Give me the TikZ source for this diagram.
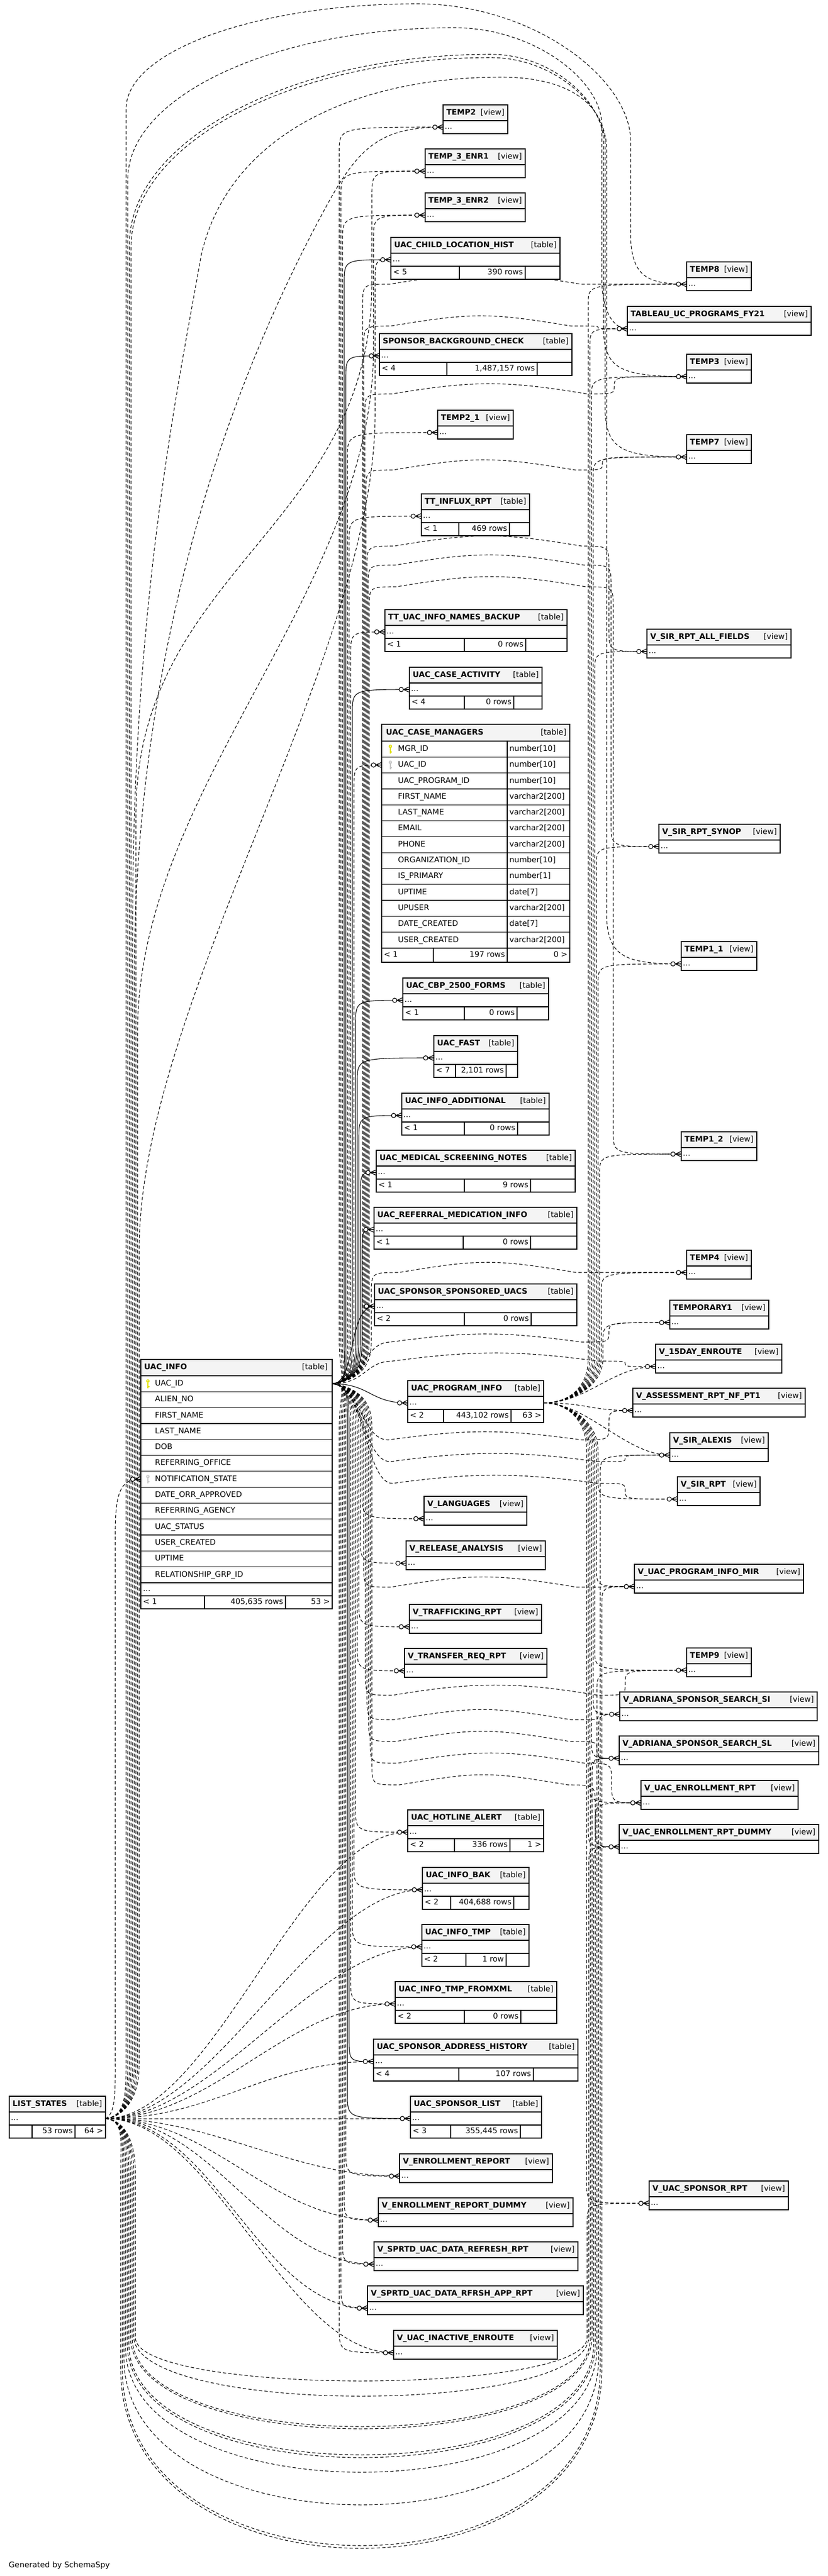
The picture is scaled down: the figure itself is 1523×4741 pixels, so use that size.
\documentclass[tikz,border=0pt]{standalone}
\usepackage{fontspec}
\setmainfont{DejaVu Sans}
\usepackage{xcolor}
\usepackage{tikz}
\usetikzlibrary{calc}
\definecolor{ink}{HTML}{000000}
\definecolor{hdrfill}{HTML}{F4F4F4}
\definecolor{keygold}{HTML}{E2E200}
\definecolor{keygray}{HTML}{C8C8C8}
\newcommand{\fsz}{\fontsize{14.25}{17}\selectfont}
\pgfdeclarelayer{back}
\pgfdeclarelayer{edges}
\pgfsetlayers{back,edges,main}
\tikzset{
  hdr/.style={draw=ink, line width=1.2pt, fill=hdrfill, anchor=north west, inner sep=0pt, outer sep=0pt, minimum height=29pt},
  cellbox/.style={draw=ink, line width=1.2pt, fill=white, anchor=north west, inner sep=0pt, outer sep=0pt, minimum height=24pt},
  titletxt/.style={anchor=west, inner sep=0pt, font=\fsz\bfseries, text height=10.5pt, text depth=3pt},
  kindtxt/.style={anchor=east, inner sep=0pt, font=\fsz, text height=10.5pt, text depth=3pt},
  celltxt/.style={anchor=west, inner sep=0pt, font=\fsz, text height=10.5pt, text depth=3pt},
  fk/.style={draw=ink, line width=1.1pt},
  fkd/.style={fk, dash pattern=on 6pt off 4pt},
  crowst/.style={draw=ink, line width=1.2pt},
}
% view box: name, x, y, width, title
\newcommand{\mkview}[5]{%
  \node[hdr, minimum width=#4] (#1H) at (#2,#3) {};
  \node[cellbox, minimum width=#4] (#1) at (#1H.south west) {};
  \node[titletxt] (#1T) at ([xshift=6pt]#1H.west) {#5};
  \node[kindtxt] (#1K) at ([xshift=-6pt]#1H.east) {[view]};
  \node[celltxt] (#1D) at ([xshift=3pt]#1.west) {...};
}
% table box: name, x, y, width, title, footer cell widths, footer texts
\newcommand{\mktable}[9]{%
  \node[hdr, minimum width=#4] (#1H) at (#2,#3) {};
  \node[cellbox, minimum width=#4] (#1) at (#1H.south west) {};
  \node[cellbox, minimum width=#6] (#1A) at (#1.south west) {};
  \node[cellbox, minimum width=#7] (#1B) at (#1A.north east) {};
  \node[cellbox, minimum width=#4-#6-#7] (#1C) at (#1B.north east) {};
  \node[titletxt] (#1T) at ([xshift=6pt]#1H.west) {#5};
  \node[kindtxt] (#1K) at ([xshift=-6pt]#1H.east) {[table]};
  \node[celltxt] (#1D) at ([xshift=3pt]#1.west) {...};
  \node[celltxt] (#1L) at ([xshift=4pt]#1A.west) {#8};
  \node[kindtxt] (#1R) at ([xshift=-4pt]#1B.east) {#9};
}
\newcommand{\keyat}[3]{%
  \draw[#3, line width=2pt] (#1,{#2-2}) -- (#1,{#2+8}) (#1,{#2+5}) -- ({#1+2.5},{#2+5});
  \fill[#3] (#1,{#2-5}) circle (3.2pt);
  \fill[white] (#1,{#2-5.5}) circle (1.1pt);
}
\newcommand{\crow}[1]{%
  \draw[crowst] ([xshift=-11pt]#1.west) -- ([yshift=5pt]#1.west)
    ([xshift=-11pt]#1.west) -- ([yshift=-5pt]#1.west)
    ([xshift=-11pt]#1.west) -- (#1.west);
  \draw[crowst, fill=white] ([xshift=-15pt]#1.west) circle (4pt);
}

\begin{document}
\begin{tikzpicture}[x=1pt, y=-1pt]
  \useasboundingbox (0,0) rectangle (1523,4741);
  \begin{pgfonlayer}{back}
    \fill[white] (0,0) rectangle (1523,4741);
  \end{pgfonlayer}

  % middle column
  \mkview{temp2}{815}{193}{119}{TEMP2}
  \mkview{t3e1}{782}{274}{184}{TEMP\_3\_ENR1}
  \mkview{t3e2}{782}{355}{184}{TEMP\_3\_ENR2}
  \mktable{uclh}{719}{437}{311}{UAC\_CHILD\_LOCATION\_HIST}{126}{121}{< 5}{390 rows}
  \mktable{sbc}{698}{614}{354}{SPONSOR\_BACKGROUND\_CHECK}{124}{166}{< 4}{1,487,157 rows}
  \mkview{temp21}{805}{755}{139}{TEMP2\_1}
  \mktable{ttinf}{775}{909}{199}{TT\_INFLUX\_RPT}{69}{93}{< 1}{469 rows}
  \mktable{ttnb}{708}{1122}{335}{TT\_UAC\_INFO\_NAMES\_BACKUP}{146}{113}{< 1}{0 rows}
  \mktable{uca}{753}{1228}{244}{UAC\_CASE\_ACTIVITY}{101}{91}{< 4}{0 rows}

  % UAC_CASE_MANAGERS, full columns
  \node[hdr, minimum width=346, minimum height=31] (ucmH) at (702,1333) {};
  \node[titletxt] (ucmT) at ([xshift=8pt]ucmH.west) {UAC\_CASE\_MANAGERS};
  \node[kindtxt] (ucmK) at ([xshift=-6pt]ucmH.east) {[table]};
  \foreach \nm/\tp [count=\i] in {MGR\_ID/number[10], UAC\_ID/number[10], UAC\_PROGRAM\_ID/number[10],
      FIRST\_NAME/varchar2[200], LAST\_NAME/varchar2[200], EMAIL/varchar2[200], PHONE/varchar2[200],
      ORGANIZATION\_ID/number[10], IS\_PRIMARY/number[1], UPTIME/date[7], UPUSER/varchar2[200],
      DATE\_CREATED/date[7], USER\_CREATED/varchar2[200]}{
    \node[cellbox, minimum width=231, minimum height=29.3] (ucm\i) at (702,{1364+(\i-1)*29.3}) {};
    \node[cellbox, minimum width=115, minimum height=29.3] (ucmy\i) at (ucm\i.north east) {};
    \node[celltxt] (ucmn\i) at ([xshift=30pt]ucm\i.west) {\nm};
    \node[celltxt] (ucmv\i) at ([xshift=4pt]ucmy\i.west) {\tp};
  }
  \node[cellbox, minimum width=95, minimum height=26] (ucmA) at (702,1745) {};
  \node[cellbox, minimum width=136, minimum height=26] (ucmB) at (ucmA.north east) {};
  \node[cellbox, minimum width=115, minimum height=26] (ucmC) at (ucmB.north east) {};
  \node[celltxt] (ucmL) at ([xshift=4pt]ucmA.west) {< 1};
  \node[kindtxt] (ucmR) at ([xshift=-4pt]ucmB.east) {197 rows};
  \node[kindtxt] (ucmG) at ([xshift=-4pt]ucmC.east) {0 >};
  \draw[draw=ink, line width=2.6pt] (702,1333) rectangle (1048,1771);
  \keyat{718}{1378.65}{keygold}
  \keyat{718}{1407.95}{keygray}

  \mktable{cbp}{741}{1800}{268}{UAC\_CBP\_2500\_FORMS}{113}{97}{< 1}{0 rows}
  \mktable{fast}{798}{1906}{154}{UAC\_FAST}{40}{93}{< 7}{2,101 rows}
  \mktable{uia}{739}{2012}{271}{UAC\_INFO\_ADDITIONAL}{115}{98}{< 1}{0 rows}
  \mktable{msn}{692}{2117}{366}{UAC\_MEDICAL\_SCREENING\_NOTES}{162}{122}{< 1}{9 rows}
  \mktable{rmi}{688}{2222}{373}{UAC\_REFERRAL\_MEDICATION\_INFO}{164}{124}{< 1}{0 rows}
  \mktable{uss}{689}{2363}{372}{UAC\_SPONSOR\_SPONSORED\_UACS}{165}{123}{< 2}{0 rows}
  \mktable{upi}{750}{2541}{250}{UAC\_PROGRAM\_INFO}{66}{124}{< 2}{443,102 rows}
  \node[kindtxt] (upiG) at ([xshift=-4pt]upiC.east) {63 >};
  \mkview{vlang}{780}{2754}{189}{V\_LANGUAGES}
  \mkview{vrel}{747}{2836}{256}{V\_RELEASE\_ANALYSIS}
  \mkview{vtraf}{753}{2953}{243}{V\_TRAFFICKING\_RPT}
  \mkview{vtrans}{744}{3034}{262}{V\_TRANSFER\_REQ\_RPT}
  \mktable{uha}{750}{3331}{250}{UAC\_HOTLINE\_ALERT}{86}{102}{< 2}{336 rows}
  \node[kindtxt] (uhaG) at ([xshift=-4pt]uhaC.east) {1 >};
  \mktable{uib}{777}{3437}{196}{UAC\_INFO\_BAK}{52}{116}{< 2}{404,688 rows}
  \mktable{uit}{776}{3542}{197}{UAC\_INFO\_TMP}{81}{74}{< 2}{1 row}
  \mktable{uitx}{727}{3647}{297}{UAC\_INFO\_TMP\_FROMXML}{127}{104}{< 2}{0 rows}
  \mktable{usah}{687}{3753}{376}{UAC\_SPONSOR\_ADDRESS\_HISTORY}{157}{137}{< 4}{107 rows}
  \mktable{usl}{755}{3858}{241}{UAC\_SPONSOR\_LIST}{74}{128}{< 3}{355,445 rows}
  \mkview{venr}{735}{3964}{281}{V\_ENROLLMENT\_REPORT}
  \mkview{venrd}{696}{4045}{358}{V\_ENROLLMENT\_REPORT\_DUMMY}
  \mkview{vsr}{688}{4126}{375}{V\_SPRTD\_UAC\_DATA\_REFRESH\_RPT}
  \mkview{vsra}{676}{4207}{397}{V\_SPRTD\_UAC\_DATA\_RFRSH\_APP\_RPT}
  \mkview{vuie}{724}{4289}{301}{V\_UAC\_INACTIVE\_ENROUTE}

  % right column
  \mkview{temp8}{1263}{482}{119}{TEMP8}
  \mkview{tab}{1154}{564}{338}{TABLEAU\_UC\_PROGRAMS\_FY21}
  \mkview{temp3}{1263}{652}{119}{TEMP3}
  \mkview{temp7}{1263}{800}{119}{TEMP7}
  \mkview{vsraf}{1190}{1158}{265}{V\_SIR\_RPT\_ALL\_FIELDS}
  \mkview{vsrs}{1212}{1517}{223}{V\_SIR\_RPT\_SYNOP}
  \mkview{t11}{1253}{1733}{139}{TEMP1\_1}
  \mkview{t12}{1253}{2083}{139}{TEMP1\_2}
  \mkview{temp4}{1263}{2301}{119}{TEMP4}
  \mkview{tmp1}{1232}{2393}{182}{TEMPORARY1}
  \mkview{v15}{1206}{2474}{232}{V\_15DAY\_ENROUTE}
  \mkview{vass}{1164}{2555}{317}{V\_ASSESSMENT\_RPT\_NF\_PT1}
  \mkview{vsal}{1232}{2637}{181}{V\_SIR\_ALEXIS}
  \mkview{vsirr}{1246}{2718}{152}{V\_SIR\_RPT}
  \mkview{vmir}{1167}{2879}{311}{V\_UAC\_PROGRAM\_INFO\_MIR}
  \mkview{temp9}{1263}{3033}{119}{TEMP9}
  \mkview{vadsi}{1140}{3114}{363}{V\_ADRIANA\_SPONSOR\_SEARCH\_SI}
  \mkview{vadsl}{1139}{3195}{367}{V\_ADRIANA\_SPONSOR\_SEARCH\_SL}
  \mkview{vuer}{1179}{3277}{289}{V\_UAC\_ENROLLMENT\_RPT}
  \mkview{vuerd}{1139}{3358}{367}{V\_UAC\_ENROLLMENT\_RPT\_DUMMY}
  \mkview{vusr}{1194}{4014}{256}{V\_UAC\_SPONSOR\_RPT}

  % UAC_INFO, full columns
  \node[hdr, minimum width=352, minimum height=30] (uinfoH) at (259,2502) {};
  \node[titletxt] (uinfoT) at ([xshift=6pt]uinfoH.west) {UAC\_INFO};
  \node[kindtxt] (uinfoK) at ([xshift=-8pt]uinfoH.east) {[table]};
  \foreach \nm [count=\i] in {UAC\_ID, ALIEN\_NO, FIRST\_NAME, LAST\_NAME, DOB, REFERRING\_OFFICE,
      NOTIFICATION\_STATE, DATE\_ORR\_APPROVED, REFERRING\_AGENCY, UAC\_STATUS, USER\_CREATED,
      UPTIME, RELATIONSHIP\_GRP\_ID}{
    \node[cellbox, minimum width=352, minimum height=29.3] (uinfo\i) at (259,{2532+(\i-1)*29.3}) {};
    \node[celltxt] (uinfon\i) at ([xshift=26pt]uinfo\i.west) {\nm};
  }
  \node[cellbox, minimum width=352] (uinfoX) at (259,2913) {};
  \node[celltxt] (uinfoD) at ([xshift=4pt]uinfoX.west) {...};
  \node[cellbox, minimum width=117] (uinfoA) at (uinfoX.south west) {};
  \node[cellbox, minimum width=149] (uinfoB) at (uinfoA.north east) {};
  \node[cellbox, minimum width=86] (uinfoC) at (uinfoB.north east) {};
  \node[celltxt] (uinfoL) at ([xshift=4pt]uinfoA.west) {< 1};
  \node[kindtxt] (uinfoR) at ([xshift=-4pt]uinfoB.east) {405,635 rows};
  \node[kindtxt] (uinfoG) at ([xshift=-4pt]uinfoC.east) {53 >};
  \keyat{272}{2546.65}{keygold}
  \keyat{272}{2722.45}{keygray}

  \mktable{lstates}{17}{3858}{177}{LIST\_STATES}{42}{79}{}{53 rows}
  \node[kindtxt] (lstatesG) at ([xshift=-4pt]lstatesC.east) {64 >};

  \begin{pgfonlayer}{edges}
    % UAC_INFO to the tables above and below it
    \foreach \tg/\bx/\ty/\st in {temp2/624/234/fkd, t3e1/627/315/fkd, t3e2/630/396/fkd, uclh/633/478/fk,
        sbc/636/655/fk, temp21/639/796/fkd, ttinf/642/950/fkd, ttnb/645/1163/fkd, uca/648/1269/fk,
        ucm2/651/1408/fkd, cbp/654/1841/fk, fast/657/1947/fk, uia/660/2053/fk, msn/663/2158/fk, rmi/666/2263/fk}
      \draw[\st] (uinfo1.east) .. controls +(30,-4) and +(0,60) .. (\bx,2470) -- (\bx,\ty+45) .. controls (\bx,\ty) .. (\tg.west);
    \foreach \tg/\bx/\ty/\st in {vlang/666/2795/fkd, vrel/663/2877/fkd, vtraf/660/2994/fkd, vtrans/657/3075/fkd,
        uha/654/3372/fkd, uib/651/3478/fkd, uit/648/3583/fkd, uitx/645/3688/fkd, usah/642/3794/fk, usl/639/3899/fk,
        venr/636/4005/fkd, venrd/633/4086/fkd, vsr/630/4167/fkd, vsra/627/4248/fkd, vuie/624/4330/fkd}
      \draw[\st] (uinfo1.east) .. controls +(30,4) and +(0,-60) .. (\bx,2625) -- (\bx,\ty-45) .. controls (\bx,\ty) .. (\tg.west);
    \draw[fk] (uinfo1.east) .. controls +(45,0) and +(-50,0) .. (uss.west);
    \draw[fk] (uinfo1.east) .. controls +(70,0) and +(-70,0) .. (upi.west);

    % UAC_INFO to the views on the right
    \foreach \tg/\bx/\lv/\rx/\ty in {temp8/667/523/1118/523, tab/669/600/1100/605, temp3/671/725/1130/693,
        temp7/673/865/1108/841, vsraf/675/1005/1120/1199, vsrs/677/1040/1124/1558, t12/679/1080/1128/2124,
        temp4/683/2342/1110/2342}{
      \pgfmathsetmacro\dd{ifthenelse(\ty>\lv,1,-1)*min(40,abs(\ty-\lv)/2)}
      \draw[fkd] (uinfo1.east) .. controls +(30,-4) and +(0,60) .. (\bx,2470) -- (\bx,\lv+40) .. controls (\bx,\lv) .. (\bx+50,\lv)
        .. controls (\bx+200,\lv-25) and (\rx-200,\lv-25) .. (\rx-50,\lv) .. controls (\rx,\lv) .. (\rx,{\lv+(\dd)})
        -- (\rx,{\ty-(\dd)}) .. controls (\rx,\ty) .. (\tg.west);
    }
    \foreach \tg/\bx/\lv/\rx/\ty in {tmp1/668/2470/1120/2434, v15/672/2505/1150/2515, vass/664/2650/1120/2596,
        vsal/668/2690/1150/2678, vsirr/672/2730/1150/2759}{
      \pgfmathsetmacro\dd{ifthenelse(\ty>\lv,1,-1)*min(40,abs(\ty-\lv)/2)}
      \draw[fkd] (uinfo1.east) .. controls (\bx,2547) and (\bx,\lv) .. (\bx+50,\lv)
        .. controls (\bx+200,\lv-20) and (\rx-200,\lv-20) .. (\rx-50,\lv) .. controls (\rx,\lv) .. (\rx,{\lv+(\dd)})
        -- (\rx,{\ty-(\dd)}) .. controls (\rx,\ty) .. (\tg.west);
    }
    \foreach \tg/\bx/\lv/\rx/\ty in {vmir/669/2921/1110/2920, temp9/672/3120/1150/3074, vadsi/675/3165/1100/3155,
        vadsl/678/3205/1098/3236, vuer/681/3245/1125/3318, vuerd/684/3285/1095/3399}{
      \pgfmathsetmacro\dd{ifthenelse(\ty>\lv,1,-1)*min(40,abs(\ty-\lv)/2)}
      \draw[fkd] (uinfo1.east) .. controls +(30,4) and +(0,-60) .. (\bx,2625) -- (\bx,\lv-40) .. controls (\bx,\lv) .. (\bx+50,\lv)
        .. controls (\bx+200,\lv-25) and (\rx-200,\lv-25) .. (\rx-50,\lv) .. controls (\rx,\lv) .. (\rx,{\lv+(\dd)})
        -- (\rx,{\ty-(\dd)}) .. controls (\rx,\ty) .. (\tg.west);
    }

    % UAC_PROGRAM_INFO to the views on the right
    \foreach \tg/\rx/\ty in {temp8/1082/523, tab/1085/605, temp3/1088/693, temp7/1091/841, vsraf/1094/1199,
        vsrs/1097/1558, t11/1100/1774, t12/1103/2124, temp4/1106/2342, tmp1/1109/2434}
      \draw[fkd] (upi.east) .. controls +(45,0) and +(0,55) .. (\rx,2500) -- (\rx,\ty+35) .. controls (\rx,\ty) .. (\tg.west);
    \foreach \tg/\rx/\ty in {vsirr/1100/2759, vmir/1097/2920, temp9/1094/3074, vadsi/1091/3155, vadsl/1088/3236,
        vuer/1085/3318, vuerd/1082/3399, vusr/1079/4055}
      \draw[fkd] (upi.east) .. controls +(45,0) and +(0,-55) .. (\rx,2670) -- (\rx,\ty-35) .. controls (\rx,\ty) .. (\tg.west);
    \foreach \tg in {v15,vass,vsal}
      \draw[fkd] (upi.east) .. controls +(80,0) and +(-80,0) .. (\tg.west);

    % LIST_STATES over the top
    \foreach \tg/\lx/\ly/\px/\tv/\rx/\ry/\ty in {temp8/232/200/767/7/1160/260/523, tab/235/330/835/51/1107/230/605,
        temp3/238/450/903/100/1110/260/693, temp7/241/455/903/106/1113/265/841}
      \draw[fkd] (lstates.east) .. controls +(35,-3) and +(0,60) .. (\lx,3800) -- (\lx,\ly)
        .. controls (\lx,{\ly-0.55*(\ly-\tv)}) and ({\px-0.55*(\px-\lx)},\tv) .. (\px,\tv)
        .. controls ({\px+0.55*(\rx-\px)},\tv) and (\rx,{\tv+0.55*(\ry-\tv)}) .. (\rx,\ry)
        -- (\rx,\ty-80) .. controls (\rx+5,\ty-15) and (\rx+30,\ty) .. (\tg.west);
    \draw[fkd] (lstates.east) .. controls +(35,-3) and +(0,60) .. (244,3800) -- (244,1700)
      .. controls (244,1100) and (330,700) .. (370,470) .. controls (420,250) and (650,142) .. (922,142)
      .. controls (1030,142) and (1116,180) .. (1116,280) -- (1116,1694) .. controls (1121,1760) and (1150,1774) .. (t11.west);
    \draw[fkd] (lstates.east) .. controls +(35,-3) and +(0,60) .. (247,3800) -- (247,1800)
      .. controls (247,1100) and (480,600) .. (600,380) .. controls (660,270) and (700,234) .. (temp2.west);
    % long diagonals into the middle bundle
    \foreach \tg/\lx/\sy/\bx/\ey/\ty in {t3e1/250/1500/684/520/315, t3e2/253/1900/687/640/396, uclh/256/2300/690/760/478}
      \draw[fkd] (lstates.east) .. controls +(35,-3) and +(0,60) .. (\lx,3800) -- (\lx,\sy)
        .. controls (\lx,\sy-450) and (\bx,\ey+450) .. (\bx,\ey) -- (\bx,\ty+45) .. controls (\bx,\ty) .. (\tg.west);
    % LIST_STATES under the bottom
    \foreach \tg/\lx/\bv/\hv/\rx/\ty in {vmir/222/4690/330/1107/2920, vsal/225/4685/325/1104/2678,
        vadsi/228/4610/270/1101/3155, temp9/231/4550/230/1098/3074, vuer/234/4523/210/1095/3318,
        vuerd/237/4518/205/1092/3399, vadsl/240/4470/170/1089/3236, vadsl/243/4466/165/1086/3236,
        vuerd/246/4410/110/1083/3399, vusr/249/4382/80/1080/4055}
      \draw[fkd] (lstates.east) .. controls +(35,3) and +(0,-60) .. (\lx,4000) -- (\lx,\bv-\hv)
        .. controls (\lx,{\bv+\hv/3}) and (\rx,{\bv+\hv/3}) .. (\rx,\bv-\hv) -- (\rx,\ty+35) .. controls (\rx,\ty) .. (\tg.west);
    % LIST_STATES to its neighbours
    \foreach \tg in {uha,uib,uit,uitx,usah,usl,venr,venrd,vsr,vsra,vuie}
      \draw[fkd] (lstates.east) .. controls +(200,0) and +(-200,0) .. (\tg.west);
    \draw[fkd] (lstates.east) .. controls +(20,-8) and +(0,60) .. (212,3780) -- (212,2820)
      .. controls (212,2740) and (225,2722) .. (uinfo7.west);
  \end{pgfonlayer}

  % crow's feet at the child ends
  \foreach \tg in {temp2,t3e1,t3e2,uclh,sbc,temp21,ttinf,ttnb,uca,ucm2,cbp,fast,uia,msn,rmi,uss,upi,
      vlang,vrel,vtraf,vtrans,uha,uib,uit,uitx,usah,usl,venr,venrd,vsr,vsra,vuie,
      temp8,tab,temp3,temp7,vsraf,vsrs,t11,t12,temp4,tmp1,v15,vass,vsal,vsirr,vmir,temp9,
      vadsi,vadsl,vuer,vuerd,vusr,uinfo7}{\crow{\tg}}

  \node[celltxt] (gen) at (16,4722) {Generated by SchemaSpy};
\end{tikzpicture}
\end{document}
